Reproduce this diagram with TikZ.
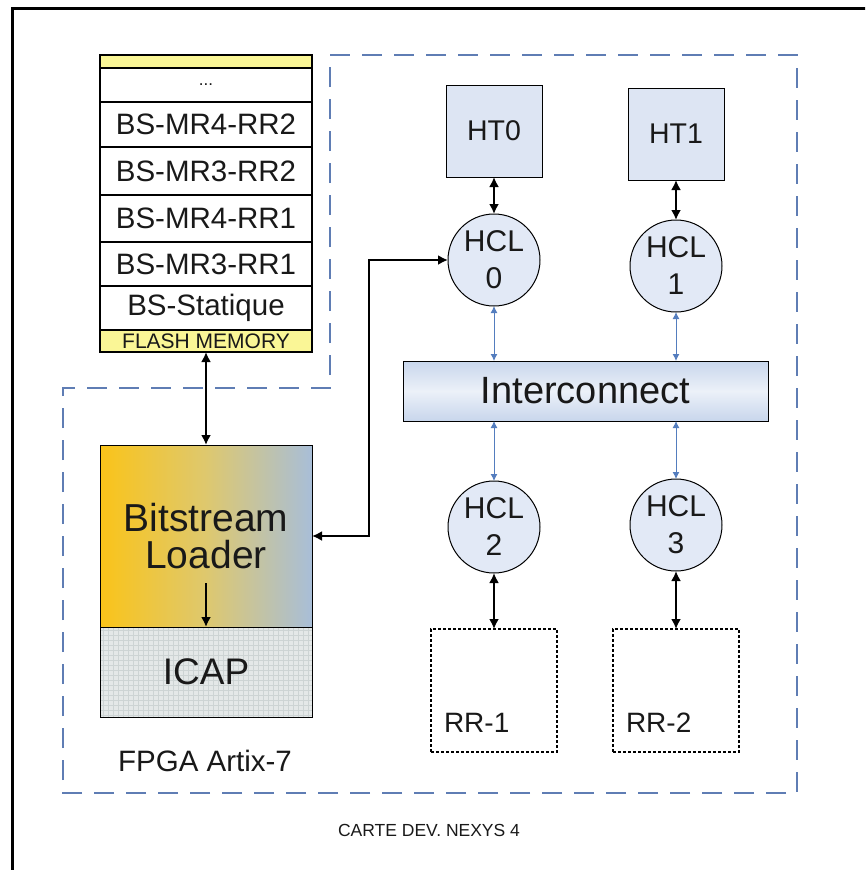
\documentclass[tikz,border=0pt]{standalone}
\usepackage{fontspec}
\setmainfont{Liberation Sans}
\usetikzlibrary{positioning}
\usetikzlibrary{arrows.meta}
\usetikzlibrary{calc}

\definecolor{flashyel}{RGB}{250,246,150}
\definecolor{htfill}{RGB}{221,229,243}
\definecolor{hclfill}{RGB}{226,233,246}
\definecolor{icfill}{RGB}{200,214,236}
\definecolor{linkblue}{RGB}{84,125,190}
\definecolor{zoneblue}{RGB}{95,125,180}
\definecolor{loadorange}{RGB}{250,196,25}
\definecolor{loadmid}{RGB}{222,200,110}
\definecolor{loadblue}{RGB}{168,190,216}
\definecolor{icapgray}{RGB}{228,232,232}
\definecolor{gridgray}{RGB}{205,212,212}
\definecolor{txtgray}{RGB}{25,25,25}

\begin{document}
\begin{tikzpicture}[
    x=1pt, y=-1pt,
    >={Latex[length=10pt,width=10pt]},
    every node/.style={text=txtgray, inner sep=0pt, outer sep=0pt},
    memrow/.style={draw, line width=1.5pt, minimum width=212pt, font=\fontsize{29.5}{29.5}\selectfont},
    hcl/.style={circle, draw, line width=1pt, fill=hclfill, minimum size=92pt, align=center, font=\fontsize{30}{37}\selectfont},
    ht/.style={draw, line width=1pt, fill=htfill, minimum width=96pt, minimum height=92pt, font=\fontsize{28.5}{28.5}\selectfont},
    rrbox/.style={draw, densely dashed, line width=1.6pt, minimum width=126pt, minimum height=123pt},
    link/.style={<->, line width=2.2pt},
    buslink/.style={{Latex[length=7pt,width=7pt]}-{Latex[length=7pt,width=7pt]}, linkblue, line width=1pt}
]
\useasboundingbox (0,0) rectangle (865,870);
\clip (0,0) rectangle (865,870);
\draw[line width=3pt] (12,8) rectangle (900,900);

\draw[zoneblue, line width=2.5pt, dash pattern=on 20pt off 12pt] (330,55) -- (797,55) -- (797,793) -- (63,793) -- (63,388) -- (330,388) -- cycle;

\node[memrow, fill=flashyel, minimum height=13pt] (memtop) at (206,61.5) {};
\node[memrow, minimum height=34pt, below=0pt of memtop, font=\fontsize{17}{17}\selectfont] (dots) {...};
\node[memrow, minimum height=45pt, below=0pt of dots] (mr4rr2) {BS-MR4-RR2};
\node[memrow, minimum height=48pt, below=0pt of mr4rr2] (mr3rr2) {BS-MR3-RR2};
\node[memrow, minimum height=47pt, below=0pt of mr3rr2] (mr4rr1) {BS-MR4-RR1};
\node[memrow, minimum height=44pt, below=0pt of mr4rr1] (mr3rr1) {BS-MR3-RR1};
\node[memrow, minimum height=44pt, below=0pt of mr3rr1] (static) {BS-Statique};
\node[memrow, fill=flashyel, minimum height=22pt, below=0pt of static, font=\fontsize{21}{21}\selectfont] (flash) {FLASH MEMORY};

\node[draw, line width=1pt, left color=loadorange, right color=loadblue, middle color=loadmid, minimum width=212pt, minimum height=182pt, align=center, font=\fontsize{39}{37}\selectfont] (loader) at (206,536) {Bitstream\\Loader};
\node[draw, line width=1pt, fill=icapgray, minimum width=212pt, minimum height=90pt, below=0pt of loader, font=\fontsize{37}{37}\selectfont,
    path picture={\draw[gridgray, line width=0.4pt, step=5pt] (path picture bounding box.south west) grid (path picture bounding box.north east);}] (icap) {ICAP};
\node[font=\fontsize{29.5}{29.5}\selectfont] (fpga) at (205,761) {FPGA Artix-7};

\node[ht] (ht0) at (494,131) {HT0};
\node[ht] (ht1) at (676,134) {HT1};
\node[hcl] (hcl0) at (494,260) {HCL\\0};
\node[hcl] (hcl1) at (676,266) {HCL\\1};
\node[draw, line width=1pt, top color=icfill, bottom color=icfill, middle color=icfill!35, minimum width=365pt, minimum height=60pt, font=\fontsize{38}{38}\selectfont] (inter) at (585.5,391) {Interconnect};
\node[hcl] (hcl2) at (494,527) {HCL\\2};
\node[hcl] (hcl3) at (676,525) {HCL\\3};
\node[rrbox, label={[anchor=south west, xshift=13pt, yshift=20pt, font=\fontsize{28}{28}\selectfont]south west:RR-1}] (rr1) at (494,690.5) {};
\node[rrbox, label={[anchor=south west, xshift=13pt, yshift=20pt, font=\fontsize{28}{28}\selectfont]south west:RR-2}] (rr2) at (676,690.5) {};

\node[font=\fontsize{17.5}{17.5}\selectfont] (carte) at (429,830) {CARTE DEV. NEXYS 4};

\draw[link] (flash) -- (loader);
\draw[->, line width=2pt] ([yshift=44pt]icap.north) -- (icap.north);
\draw[<->, line width=2pt] (loader.east) -- ++(57,0) |- (hcl0.west);
\draw[link] (ht0) -- (hcl0);
\draw[link] (ht1) -- (hcl1);
\draw[buslink] (hcl0.south) -- (hcl0.south |- inter.north);
\draw[buslink] (hcl1.south) -- (hcl1.south |- inter.north);
\draw[buslink] (hcl2.north) -- (hcl2.north |- inter.south);
\draw[buslink] (hcl3.north) -- (hcl3.north |- inter.south);
\draw[link] (hcl2) -- (rr1);
\draw[link] (hcl3) -- (rr2);
\end{tikzpicture}
\end{document}
